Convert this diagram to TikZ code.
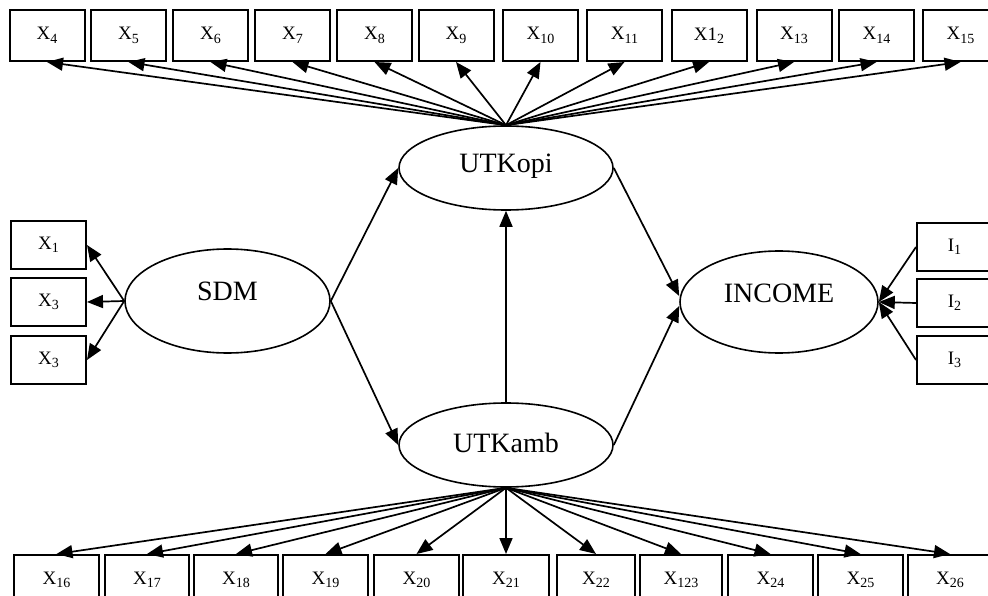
\documentclass[tikz,border=0pt]{standalone}
\usepackage{fontspec}
\setmainfont{Liberation Serif}
\usetikzlibrary{arrows.meta,shapes.geometric}
\newcommand{\sbx}[1]{\raisebox{-3.5pt}{\fontsize{14}{14}\selectfont #1}}
\begin{document}
\begin{tikzpicture}[x=1pt,y=-1pt,
  box/.style={draw,line width=2pt,minimum width=75pt,minimum height=51pt,inner sep=0pt,font=\fontsize{19}{19}\selectfont},
  bbox/.style={box,minimum height=50pt},
  sbox/.style={box,minimum height=48pt},
  lat/.style={draw,ellipse,line width=1.6pt,inner sep=0pt},
  latlab/.style={font=\fontsize{28}{28}\selectfont},
  arr/.style={line width=1.7pt,-{Triangle[length=16pt,width=13pt]}}]
\useasboundingbox (0,0) rectangle (988,596);
% top indicators
\node[box] (t4) at (47,35.5) {X\sbx{4}};
\node[box] (t5) at (128.5,35.5) {X\sbx{5}};
\node[box] (t6) at (210.5,35.5) {X\sbx{6}};
\node[box] (t7) at (292.5,35.5) {X\sbx{7}};
\node[box] (t8) at (374.5,35.5) {X\sbx{8}};
\node[box] (t9) at (456,35.5) {X\sbx{9}};
\node[box] (t10) at (540.5,35.5) {X\sbx{10}};
\node[box] (t11) at (624.5,35.5) {X\sbx{11}};
\node[box] (t12) at (709,35.5) {X1\sbx{2}};
\node[box] (t13) at (794,35.5) {X\sbx{13}};
\node[box] (t14) at (876.5,35.5) {X\sbx{14}};
\node[box] (t15) at (960.5,35.5) {X\sbx{15}};
% bottom indicators
\node[bbox,minimum width=85pt] (b16) at (56.5,580) {X\sbx{16}};
\node[bbox,minimum width=84pt] (b17) at (147,580) {X\sbx{17}};
\node[bbox,minimum width=84pt] (b18) at (236,580) {X\sbx{18}};
\node[bbox,minimum width=85pt] (b19) at (325.5,580) {X\sbx{19}};
\node[bbox,minimum width=85pt] (b20) at (416.5,580) {X\sbx{20}};
\node[bbox,minimum width=86pt] (b21) at (506,580) {X\sbx{21}};
\node[bbox,minimum width=78pt] (b22) at (596,580) {X\sbx{22}};
\node[bbox,minimum width=82pt] (b23) at (681,580) {X\sbx{123}};
\node[bbox,minimum width=85pt] (b24) at (770.5,580) {X\sbx{24}};
\node[bbox,minimum width=85pt] (b25) at (860.5,580) {X\sbx{25}};
\node[bbox,minimum width=84pt] (b26) at (950,580) {X\sbx{26}};
% left indicators
\node[sbox] (l1) at (48.5,245) {X\sbx{1}};
\node[sbox] (l2) at (48.5,302) {X\sbx{3}};
\node[sbox] (l3) at (48.5,360) {X\sbx{3}};
% right indicators
\node[sbox] (i1) at (954.5,247) {I\sbx{1}};
\node[sbox] (i2) at (954.5,303) {I\sbx{2}};
\node[sbox] (i3) at (954.5,360) {I\sbx{3}};
% latent variables
\node[lat,minimum width=214pt,minimum height=84pt,label={[latlab,yshift=2pt]center:UTKopi}] (opi) at (506,168) {};
\node[lat,minimum width=214pt,minimum height=84pt,label={[latlab,yshift=2pt]center:UTKamb}] (amb) at (506,445) {};
\node[lat,minimum width=205pt,minimum height=104pt,label={[latlab,yshift=10pt]center:SDM}] (sdm) at (227.5,301) {};
\node[lat,minimum width=198pt,minimum height=102pt,label={[latlab,yshift=9pt]center:INCOME}] (inc) at (779,302) {};
% connectors
\foreach \n in {4,...,15} \draw[arr] (opi.north) -- (t\n.south);
\foreach \n in {16,...,26} \draw[arr] (amb.south) -- (b\n.north);
\foreach \n in {1,2,3} \draw[arr] (sdm.west) -- (l\n.east);
\foreach \n in {1,2,3} \draw[arr] (i\n.west) -- (inc.east);
\draw[arr] (amb.north) -- (opi.south);
\draw[arr] (sdm.east) -- (opi.west);
\draw[arr] (sdm.east) -- (amb.west);
\draw[arr] (opi.east) -- ([yshift=6pt]inc.west);
\draw[arr] (amb.east) -- ([yshift=-4pt]inc.west);
\end{tikzpicture}
\end{document}
